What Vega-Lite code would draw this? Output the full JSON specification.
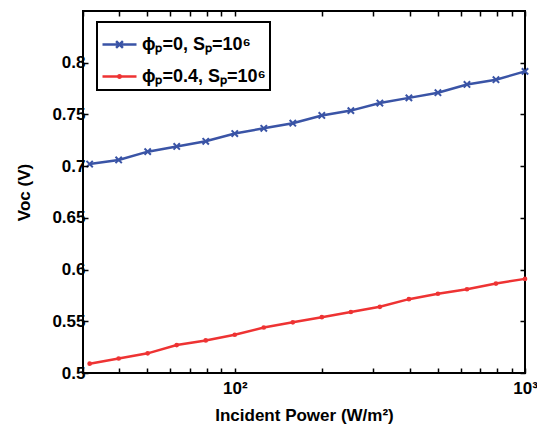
{
  "$schema": "https://vega.github.io/schema/vega-lite/v6.json",
  "width": 442,
  "height": 362,
  "autosize": "none",
  "padding": {"left": 83, "top": 11, "right": 12, "bottom": 56},
  "background": "white",
  "config": {
    "view": {"stroke": "black", "strokeWidth": 2},
    "font": "Liberation Sans",
    "axis": {
      "labelFont": "Liberation Sans", "labelFontWeight": "bold", "labelFontSize": 17, "labelColor": "black",
      "titleFont": "Liberation Sans", "titleFontWeight": "bold", "titleFontSize": 17, "titleColor": "black",
      "domain": false, "grid": false, "labelFlush": false, "labelOverlap": false
    },
    "legend": {
      "labelFont": "Liberation Sans", "labelFontWeight": "bold", "labelFontSize": 18, "labelColor": "black",
      "strokeWidth": 2
    }
  },
  "data": {
    "values": [
      {"P": 31.62, "V": 0.702, "s": "ϕₚ=0, Sₚ=10⁶"},
      {"P": 39.81, "V": 0.706, "s": "ϕₚ=0, Sₚ=10⁶"},
      {"P": 50.12, "V": 0.714, "s": "ϕₚ=0, Sₚ=10⁶"},
      {"P": 63.10, "V": 0.719, "s": "ϕₚ=0, Sₚ=10⁶"},
      {"P": 79.43, "V": 0.724, "s": "ϕₚ=0, Sₚ=10⁶"},
      {"P": 100, "V": 0.7315, "s": "ϕₚ=0, Sₚ=10⁶"},
      {"P": 125.9, "V": 0.7366, "s": "ϕₚ=0, Sₚ=10⁶"},
      {"P": 158.5, "V": 0.7415, "s": "ϕₚ=0, Sₚ=10⁶"},
      {"P": 199.5, "V": 0.749, "s": "ϕₚ=0, Sₚ=10⁶"},
      {"P": 251.2, "V": 0.7537, "s": "ϕₚ=0, Sₚ=10⁶"},
      {"P": 316.2, "V": 0.761, "s": "ϕₚ=0, Sₚ=10⁶"},
      {"P": 398.1, "V": 0.766, "s": "ϕₚ=0, Sₚ=10⁶"},
      {"P": 501.2, "V": 0.771, "s": "ϕₚ=0, Sₚ=10⁶"},
      {"P": 631.0, "V": 0.779, "s": "ϕₚ=0, Sₚ=10⁶"},
      {"P": 794.3, "V": 0.7836, "s": "ϕₚ=0, Sₚ=10⁶"},
      {"P": 1000, "V": 0.7916, "s": "ϕₚ=0, Sₚ=10⁶"},
      {"P": 31.62, "V": 0.509, "s": "ϕₚ=0.4, Sₚ=10⁶"},
      {"P": 39.81, "V": 0.514, "s": "ϕₚ=0.4, Sₚ=10⁶"},
      {"P": 50.12, "V": 0.519, "s": "ϕₚ=0.4, Sₚ=10⁶"},
      {"P": 63.10, "V": 0.527, "s": "ϕₚ=0.4, Sₚ=10⁶"},
      {"P": 79.43, "V": 0.5315, "s": "ϕₚ=0.4, Sₚ=10⁶"},
      {"P": 100, "V": 0.537, "s": "ϕₚ=0.4, Sₚ=10⁶"},
      {"P": 125.9, "V": 0.544, "s": "ϕₚ=0.4, Sₚ=10⁶"},
      {"P": 158.5, "V": 0.549, "s": "ϕₚ=0.4, Sₚ=10⁶"},
      {"P": 199.5, "V": 0.554, "s": "ϕₚ=0.4, Sₚ=10⁶"},
      {"P": 251.2, "V": 0.559, "s": "ϕₚ=0.4, Sₚ=10⁶"},
      {"P": 316.2, "V": 0.564, "s": "ϕₚ=0.4, Sₚ=10⁶"},
      {"P": 398.1, "V": 0.5714, "s": "ϕₚ=0.4, Sₚ=10⁶"},
      {"P": 501.2, "V": 0.5766, "s": "ϕₚ=0.4, Sₚ=10⁶"},
      {"P": 631.0, "V": 0.581, "s": "ϕₚ=0.4, Sₚ=10⁶"},
      {"P": 794.3, "V": 0.5865, "s": "ϕₚ=0.4, Sₚ=10⁶"},
      {"P": 1000, "V": 0.591, "s": "ϕₚ=0.4, Sₚ=10⁶"}
    ]
  },
  "resolve": {"axis": {"x": "independent", "y": "independent"}},
  "layer": [
    {
      "transform": [{"filter": "datum.s == 'ϕₚ=0, Sₚ=10⁶'"}],
      "mark": {"type": "line", "strokeWidth": 2.5, "color": "#3a54a6"},
      "encoding": {
        "x": {"field": "P", "type": "quantitative",
              "scale": {"type": "log", "domain": [30, 1000], "nice": false},
              "axis": {"orient": "bottom", "title": "Incident Power (W/m²)",
                       "ticks": true, "tickSize": -5, "tickColor": "black", "tickWidth": 1.5, "tickOpacity": 1, "zindex": 1,
                       "values": [30,40,50,60,70,80,90,100,200,300,400,500,600,700,800,900,1000],
                       "labelExpr": "datum.value == 100 ? '10²' : (datum.value == 1000 ? '10³' : '')",
                       "labelPadding": 12, "titlePadding": 11}},
        "y": {"field": "V", "type": "quantitative",
              "scale": {"domain": [0.5, 0.85], "nice": false, "zero": false},
              "axis": {"orient": "left", "title": "Voc (V)",
                       "ticks": true, "tickSize": -5, "tickColor": "black", "tickWidth": 1.5, "tickOpacity": 1, "zindex": 1,
                       "values": [0.5,0.55,0.6,0.65,0.7,0.75,0.8], "format": ".2~f",
                       "labelPadding": 3, "titlePadding": 18}}
      }
    },
    {
      "transform": [{"filter": "datum.s != 'ϕₚ=0, Sₚ=10⁶'"}],
      "mark": {"type": "line", "strokeWidth": 2.5, "color": "#ee3333"},
      "encoding": {
        "x": {"field": "P", "type": "quantitative",
              "axis": {"orient": "top", "labels": false, "title": null,
                       "ticks": true, "tickSize": -5, "tickColor": "black", "tickWidth": 1.5, "tickOpacity": 1, "zindex": 1,
                       "values": [30,40,50,60,70,80,90,100,200,300,400,500,600,700,800,900,1000]}},
        "y": {"field": "V", "type": "quantitative",
              "axis": {"orient": "right", "labels": false, "title": null,
                       "ticks": true, "tickSize": -5, "tickColor": "black", "tickWidth": 1.5, "tickOpacity": 1, "zindex": 1,
                       "values": [0.5,0.55,0.6,0.65,0.7,0.75,0.8]}}
      }
    },
    {
      "transform": [{"filter": "datum.s == 'ϕₚ=0, Sₚ=10⁶'"}],
      "mark": {"type": "point", "shape": "M-1,-1L1,1M-1,1L1,-1", "size": 40, "strokeWidth": 2, "color": "#3a54a6", "filled": false, "opacity": 1},
      "encoding": {
        "x": {"field": "P", "type": "quantitative", "axis": null},
        "y": {"field": "V", "type": "quantitative", "axis": null}
      }
    },
    {
      "transform": [{"filter": "datum.s != 'ϕₚ=0, Sₚ=10⁶'"}],
      "mark": {"type": "point", "shape": "circle", "size": 22, "color": "#ee3333", "filled": true, "opacity": 1},
      "encoding": {
        "x": {"field": "P", "type": "quantitative", "axis": null},
        "y": {"field": "V", "type": "quantitative", "axis": null}
      }
    },
    {
      "mark": {"type": "point", "opacity": 0, "filled": false},
      "encoding": {
        "x": {"field": "P", "type": "quantitative", "axis": null},
        "y": {"field": "V", "type": "quantitative", "axis": null},
        "color": {"field": "s", "type": "nominal",
                  "scale": {"domain": ["ϕₚ=0, Sₚ=10⁶", "ϕₚ=0.4, Sₚ=10⁶"], "range": ["#3a54a6", "#ee3333"]},
                  "legend": {"title": null, "orient": "none", "legendX": 14, "legendY": 11,
                             "strokeColor": "black", "fillColor": "white",
                             "padding": 4, "rowPadding": 4, "labelOffset": 4,
                             "symbolSize": 1156, "symbolStrokeWidth": 2.5, "symbolOpacity": 1}},
        "shape": {"field": "s", "type": "nominal",
                  "scale": {"domain": ["ϕₚ=0, Sₚ=10⁶", "ϕₚ=0.4, Sₚ=10⁶"],
                            "range": ["M-1,0H1M-0.2,-0.2L0.2,0.2M-0.2,0.2L0.2,-0.2", "M-1,0H1M0.08,0A0.08,0.08 0 1,1 -0.08,0A0.08,0.08 0 1,1 0.08,0"]},
                  "legend": {"title": null, "orient": "none", "legendX": 14, "legendY": 11,
                             "strokeColor": "black", "fillColor": "white",
                             "padding": 4, "rowPadding": 4, "labelOffset": 4,
                             "symbolSize": 1156, "symbolStrokeWidth": 2.5, "symbolOpacity": 1}}
      }
    }
  ]
}
